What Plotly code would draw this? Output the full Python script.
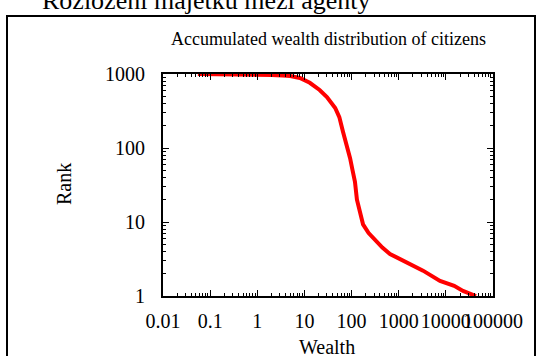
import plotly.graph_objects as go

# Data (wealth vs rank, log-log)
wealth = [0.055, 0.09, 0.15, 0.25, 0.34, 0.6, 1.0, 2.0, 3.5, 5.0, 8.0, 13, 21, 30,
          45, 55, 66, 80, 93, 105, 118, 130, 150, 175, 230, 314, 450, 653, 1000,
          1740, 3280, 7520, 15000, 23100, 43600]
rank = [1000, 999, 998, 996, 993, 990, 985, 970, 955, 940, 883, 760, 608, 489,
        347, 262, 165, 110, 73, 50, 35, 20, 13.7, 9.3, 7.1, 5.8, 4.5, 3.7, 3.2,
        2.7, 2.2, 1.6, 1.37, 1.17, 1]

x_tick_vals = [0.01, 0.1, 1, 10, 100, 1000, 10000, 100000]
x_tick_text = ["0.01", "0.1", "1", "10", "100", "1000", "10000", "100000"]
y_tick_vals = [1, 10, 100, 1000]
y_tick_text = ["1", "10", "100", "1000"]

main_title = "Rozložení majetku mezi agenty"
chart_title = "Accumulated wealth distribution of citizens"
x_title = "Wealth"
y_title = "Rank"

FONT = "Liberation Serif"

# plot area geometry in pixels
W, H = 538, 356
L, R, T, B = 163, 45, 74, 60
PW, PH = W - L - R, H - T - B


def px(x):
    return (x - L) / PW


def py(y):
    return (H - B - y) / PH


def minor_vals(lo, hi):
    return [m * 10 ** e for e in range(lo, hi) for m in range(2, 10)]


fig = go.Figure()
fig.add_trace(go.Scatter(
    x=wealth, y=rank, mode="lines",
    line=dict(color="#ff0000", width=4),
    showlegend=False,
))

axis_common = dict(
    type="log", showgrid=False, zeroline=False,
    showline=True, linecolor="#000", linewidth=2, mirror="allticks",
    ticks="inside", ticklen=6, tickcolor="#000", tickwidth=1,
    tickfont=dict(family=FONT, size=20, color="#000"),
    tickangle=0,
)

fig.update_xaxes(
    **axis_common,
    range=[-2, 5],
    tickmode="array", tickvals=x_tick_vals, ticktext=x_tick_text,
    ticklabelstandoff=6, ticklabeloverflow="allow",
    minor=dict(ticks="inside", ticklen=3, tickcolor="#000",
               tickmode="array", tickvals=minor_vals(-2, 5)),
)
fig.update_yaxes(
    **axis_common,
    range=[0, 3],
    tickmode="array", tickvals=y_tick_vals, ticktext=y_tick_text,
    ticklabelstandoff=12,
    minor=dict(ticks="inside", ticklen=3, tickcolor="#000",
               tickmode="array", tickvals=minor_vals(0, 3)),
)

annotations = [
    dict(text=main_title, x=px(206), y=py(17), xref="paper", yref="paper",
         xanchor="center", yanchor="bottom", showarrow=False,
         font=dict(family=FONT, size=26, color="#000")),
    dict(text=chart_title, x=px(328), y=py(39), xref="paper", yref="paper",
         xanchor="center", yanchor="middle", showarrow=False,
         font=dict(family=FONT, size=18, color="#000")),
    dict(text=x_title, x=px(327), y=py(347), xref="paper", yref="paper",
         xanchor="center", yanchor="middle", showarrow=False,
         font=dict(family=FONT, size=20, color="#000")),
    dict(text=y_title, x=px(64), y=py(184), xref="paper", yref="paper",
         xanchor="center", yanchor="middle", showarrow=False, textangle=-90,
         font=dict(family=FONT, size=20, color="#000")),
]

shapes = [
    dict(type="rect", xref="paper", yref="paper",
         x0=px(7), x1=px(535), y0=py(370), y1=py(16),
         line=dict(color="#000", width=2), fillcolor="rgba(0,0,0,0)", layer="below"),
]

fig.update_layout(
    width=W, height=H,
    margin=dict(l=L, r=R, t=T, b=B, autoexpand=False),
    paper_bgcolor="white", plot_bgcolor="white",
    annotations=annotations, shapes=shapes,
    font=dict(family=FONT, color="#000"),
)

fig.write_html(
    "out.html",
    config={"displayModeBar": False},
    post_script="document.body.style.margin='0';document.body.style.overflow='hidden';",
)
